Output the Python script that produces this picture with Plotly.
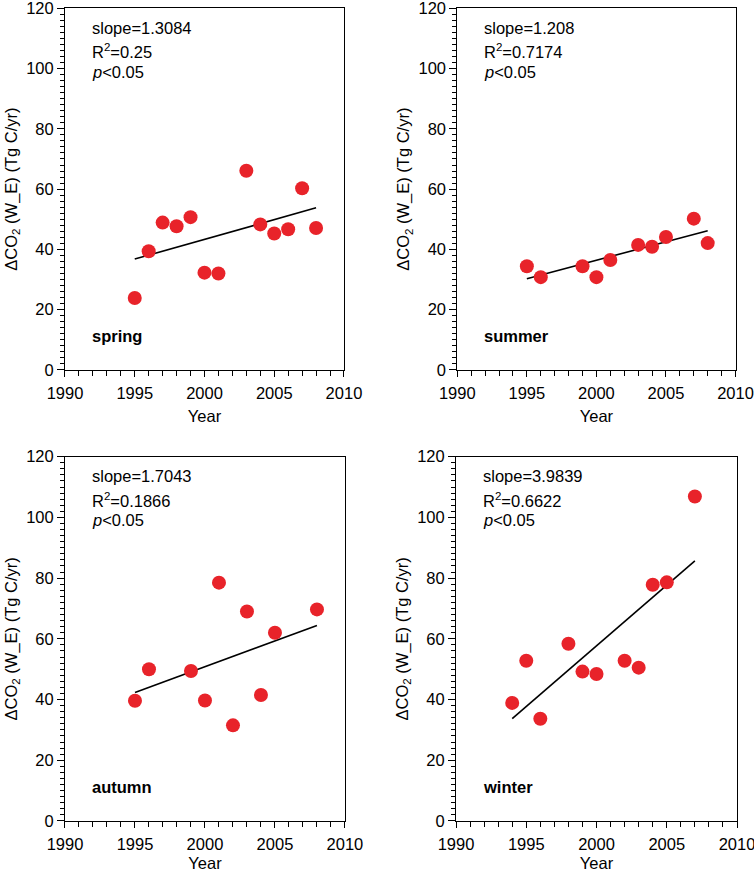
import plotly.graph_objects as go

# values
spring_years = [1995, 1996, 1997, 1998, 1999, 2000, 2001, 2003, 2004, 2005, 2006, 2007, 2008]
spring_vals = [23.9, 39.4, 48.9, 47.7, 50.7, 32.3, 32.0, 66.1, 48.3, 45.3, 46.7, 60.3, 47.1]
spring_fit_years = [1995, 2008]
spring_fit_vals = [36.8, 53.8]

summer_years = [1995, 1996, 1999, 2000, 2001, 2003, 2004, 2005, 2007, 2008]
summer_vals = [34.4, 30.8, 34.4, 30.8, 36.5, 41.5, 40.9, 44.1, 50.2, 42.1]
summer_fit_years = [1995, 2008]
summer_fit_vals = [30.3, 46.2]

autumn_years = [1995, 1996, 1999, 2000, 2001, 2002, 2003, 2004, 2005, 2008]
autumn_vals = [39.6, 50.0, 49.4, 39.7, 78.5, 31.5, 69.0, 41.5, 62.0, 69.7]
autumn_fit_years = [1995, 2008]
autumn_fit_vals = [42.3, 64.4]

winter_years = [1994, 1995, 1996, 1998, 1999, 2000, 2002, 2003, 2004, 2005, 2007]
winter_vals = [38.9, 52.8, 33.7, 58.4, 49.2, 48.4, 52.8, 50.5, 77.8, 78.6, 106.9]
winter_fit_years = [1994, 2007]
winter_fit_vals = [33.7, 85.7]

seasons = ["spring", "summer", "autumn", "winter"]
slopes = ["1.3084", "1.208", "1.7043", "3.9839"]
r2s = ["0.25", "0.7174", "0.1866", "0.6622"]

panels = [
    (spring_years, spring_vals, spring_fit_years, spring_fit_vals),
    (summer_years, summer_vals, summer_fit_years, summer_fit_vals),
    (autumn_years, autumn_vals, autumn_fit_years, autumn_fit_vals),
    (winter_years, winter_vals, winter_fit_years, winter_fit_vals),
]

FONT = "Liberation Sans, Arial, Helvetica, sans-serif"
RED = "#e8232a"

# domains in paper coords for the 2x2 grid
x_domains = [[0.0862, 0.4562], [0.6065, 0.9755], [0.0862, 0.4575], [0.6048, 0.9775]]
y_domains = [[0.5757, 0.9905], [0.5757, 0.9905], [0.0585, 0.4763], [0.0585, 0.4763]]

fig = go.Figure()
layout = {}

for i, (yrs, vals, fx, fy) in enumerate(panels):
    n = "" if i == 0 else str(i + 1)
    xa, ya = "x" + n, "y" + n

    fig.add_trace(go.Scatter(
        x=fx, y=fy, mode="lines", xaxis=xa, yaxis=ya,
        line=dict(color="black", width=1.6), showlegend=False,
    ))
    fig.add_trace(go.Scatter(
        x=yrs, y=vals, mode="markers", xaxis=xa, yaxis=ya,
        marker=dict(color=RED, size=14, line=dict(width=0)), showlegend=False,
    ))

    layout["xaxis" + n] = dict(
        domain=x_domains[i], anchor=ya, range=[1990, 2010], automargin=False,
        tickvals=[1990, 1995, 2000, 2005, 2010], ticks="outside", ticklen=6,
        tickcolor="black", showline=True, linecolor="black", linewidth=1,
        mirror=True, showgrid=False, zeroline=False, ticklabeloverflow="allow",
        ticklabelstandoff=2,
        minor=dict(dtick=1, tick0=1990, ticks="outside", ticklen=5, tickcolor="black"),
        tickfont=dict(family=FONT, size=16.5, color="black"),
        title=dict(text="Year", font=dict(family=FONT, size=16.5, color="black"), standoff=9),
    )
    layout["yaxis" + n] = dict(
        domain=y_domains[i], anchor=xa, range=[0, 120], automargin=False,
        tickvals=[0, 20, 40, 60, 80, 100, 120], ticks="outside", ticklen=7,
        tickcolor="black", showline=True, linecolor="black", linewidth=1,
        mirror=True, showgrid=False, zeroline=False, ticklabeloverflow="allow",
        minor=dict(dtick=2, tick0=0, ticks="outside", ticklen=4, tickcolor="black"),
        tickfont=dict(family=FONT, size=16.5, color="black"),
        title=dict(text="ΔCO<sub>2</sub> (W_E) (Tg C/yr)",
                   font=dict(family=FONT, size=16.5, color="black"), standoff=4),
    )

    txt_font = dict(family=FONT, size=16.5, color="black")
    for yv, t in [(113.6, "slope=" + slopes[i]),
                  (105.8, "R<sup>2</sup>=" + r2s[i]),
                  (99.0, "<i>p</i>&lt;0.05")]:
        fig.add_annotation(x=1991.8, y=yv, xref=xa, yref=ya, text=t,
                           showarrow=False, xanchor="left", yanchor="middle",
                           font=txt_font)
    fig.add_annotation(x=1991.8, y=11.2, xref=xa, yref=ya, text="<b>" + seasons[i] + "</b>",
                       showarrow=False, xanchor="left", yanchor="middle",
                       font=txt_font)

fig.update_layout(
    width=754, height=872,
    margin=dict(l=0, r=0, t=0, b=0),
    plot_bgcolor="white", paper_bgcolor="white",
    font=dict(family=FONT, color="black"),
    **layout,
)

# drop the page's default body margin so the figure sits at the window corner
fig.write_html("out.html", config={"displayModeBar": False},
               post_script="document.body.style.margin = '0';")
